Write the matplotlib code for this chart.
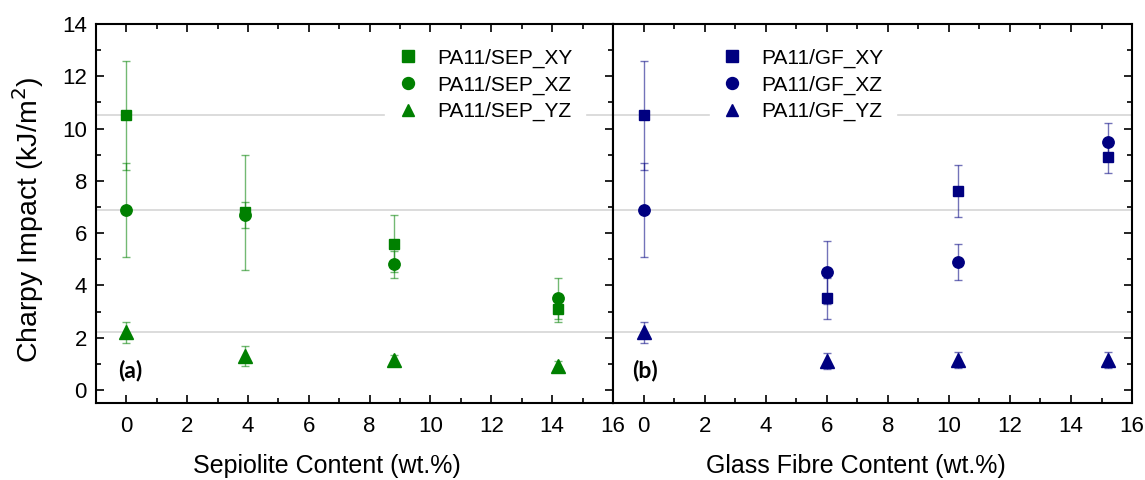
import numpy as np
import matplotlib
matplotlib.use("Agg")
import matplotlib.pyplot as plt
from matplotlib.ticker import MultipleLocator

plt.rcParams['font.family'] = ['Liberation Sans', 'DejaVu Sans']

# --- Sepiolite series (panel a) ---
x_sep = [0, 3.9, 8.8, 14.2]
sep_xy = [10.5, 6.8, 5.6, 3.1]
sep_xy_err = [2.1, 2.2, 1.1, 0.5]
sep_xz = [6.9, 6.7, 4.8, 3.5]
sep_xz_err = [1.8, 0.5, 0.5, 0.8]
sep_yz = [2.2, 1.3, 1.15, 0.9]
sep_yz_err = [0.4, 0.4, 0.2, 0.2]

# --- Glass fibre series (panel b) ---
x_gf = [0, 6.0, 10.3, 15.2]
gf_xy = [10.5, 3.5, 7.6, 8.9]
gf_xy_err = [2.1, 0.8, 1.0, 0.6]
gf_xz = [6.9, 4.5, 4.9, 9.5]
gf_xz_err = [1.8, 1.2, 0.7, 0.7]
gf_yz = [2.2, 1.1, 1.15, 1.15]
gf_yz_err = [0.4, 0.3, 0.3, 0.3]

green = '#008000'
navy = '#000080'

fig = plt.figure(figsize=(11.45, 4.8), dpi=100)
ax1 = fig.add_axes([0.0838, 0.1604, 0.4515, 0.7896])
ax2 = fig.add_axes([0.5354, 0.1604, 0.4533, 0.7896])


def painel(ax, x, series, cor, prefixo):
    # linhas de referencia nos valores do PA11 puro
    for s in series:
        ax.axhline(s[0][0], color='#d9d9d9', lw=1.3, zorder=0)
    for (y, err, mk, ms), sufixo in zip(series, ['XY', 'XZ', 'YZ']):
        ax.errorbar(x, y, yerr=err, fmt='none', ecolor=cor, alpha=0.55,
                    elinewidth=1.0, capsize=2.8, capthick=1.0, zorder=2)
        ax.plot(x, y, linestyle='none', marker=mk, ms=ms, color=cor,
                mec=cor, label=f'{prefixo}_{sufixo}', zorder=3)
    ax.set_xlim(-1, 16)
    ax.set_ylim(-0.5, 14)
    ax.xaxis.set_major_locator(MultipleLocator(2))
    ax.xaxis.set_minor_locator(MultipleLocator(1))
    ax.yaxis.set_major_locator(MultipleLocator(2))
    ax.yaxis.set_minor_locator(MultipleLocator(1))
    ax.tick_params(which='both', direction='in', top=True, right=True,
                   width=1.2, labelsize=16)
    ax.tick_params(which='major', length=6)
    ax.tick_params(which='minor', length=3.5)
    ax.tick_params(axis='x', which='both', pad=9.5)
    ax.tick_params(axis='y', which='both', pad=6.5)
    for sp in ax.spines.values():
        sp.set_linewidth(1.5)

    leg = ax.legend(loc='upper left', fontsize=15, frameon=True,
                    framealpha=1, facecolor='white', edgecolor='white',
                    fancybox=False, handlelength=1.0, handletextpad=0.9,
                    labelspacing=0.36, borderpad=0.6, borderaxespad=0)
    for h in leg.legend_handles:
        h.set_markersize(8.6)
    leg.set_zorder(4)
    return leg


leg1 = painel(ax1, x_sep, [(sep_xy, sep_xy_err, 's', 7.5),
                           (sep_xz, sep_xz_err, 'o', 8.2),
                           (sep_yz, sep_yz_err, '^', 10.5)], green, 'PA11/SEP')
leg2 = painel(ax2, x_gf, [(gf_xy, gf_xy_err, 's', 7.5),
                          (gf_xz, gf_xz_err, 'o', 8.2),
                          (gf_yz, gf_yz_err, '^', 10.5)], navy, 'PA11/GF')
leg1.set_bbox_to_anchor((0.56, 0.968), transform=ax1.transAxes)
leg2.set_bbox_to_anchor((0.186, 0.968), transform=ax2.transAxes)

ax2.tick_params(which='both', left=False, labelleft=False)

ax1.set_ylabel('Charpy Impact (kJ/m$^2$)', fontsize=20.5)
ax1.yaxis.set_label_coords(-0.097, 0.483)
ax1.set_xlabel('Sepiolite Content (wt.%)', fontsize=18)
ax1.xaxis.set_label_coords(0.446, -0.135)
ax2.set_xlabel('Glass Fibre Content (wt.%)', fontsize=18)
ax2.xaxis.set_label_coords(0.467, -0.135)

ax1.text(0.043, 0.087, '(a)', transform=ax1.transAxes, fontsize=16.5,
         fontweight='bold', family='Lato', va='center')
ax2.text(0.037, 0.087, '(b)', transform=ax2.transAxes, fontsize=16.5,
         fontweight='bold', family='Lato', va='center')

fig.savefig('out.png', dpi=100)
